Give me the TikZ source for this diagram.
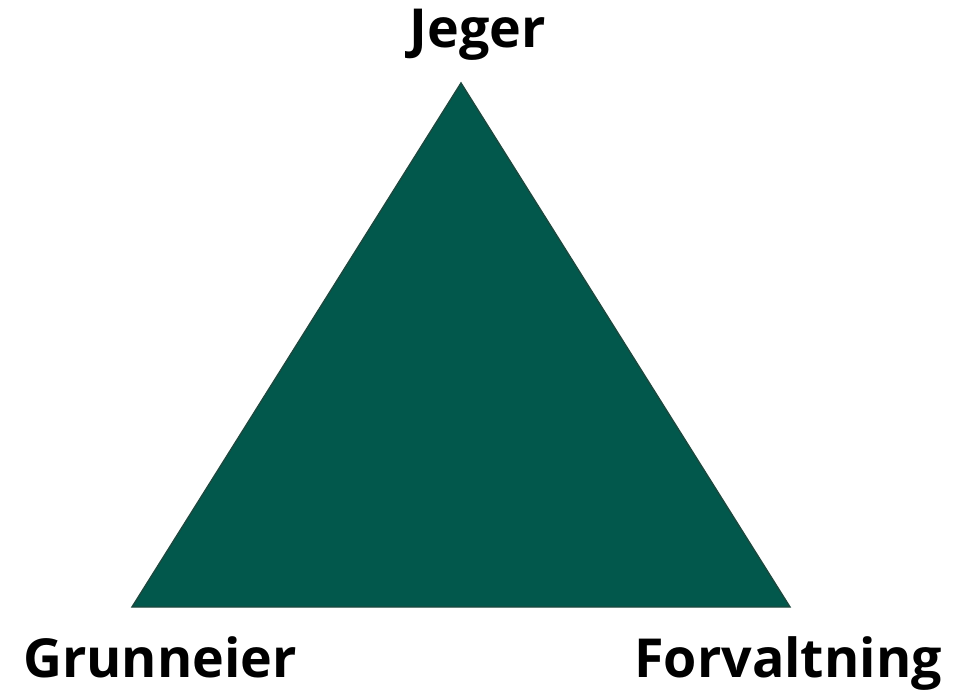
\documentclass[tikz,border=0pt]{standalone}
\usepackage{fontspec}
\setmainfont{Open Sans}
\usepackage{xcolor}
\usepackage{tikz}
\usetikzlibrary{positioning}
\definecolor{forestgreen}{RGB}{2, 88, 76}
\definecolor{forestedge}{RGB}{28, 72, 62}

\begin{document}
\begin{tikzpicture}[
    label/.style={font=\fontsize{30.6}{36}\selectfont\bfseries, anchor=base, inner sep=0pt},
    triangle/.style={fill=forestgreen, draw=forestedge, line width=0.8pt, line join=miter}
]
\useasboundingbox (0,0) rectangle (19.38,13.82);

% Corners
\coordinate (top) at (9.22,12.16);
\coordinate (left) at (2.64,1.68);
\coordinate (right) at (15.80,1.68);

% Triangle
\draw[triangle] (top) -- (left) -- (right) -- cycle;

% Labels
\node[label] (jeger) at (9.56,12.86) {Jeger};
\node[label] (grunneier) at (3.20,0.28) {Grunneier};
\node[label] (forvaltning) at (15.76,0.28) {Forvaltning};
\end{tikzpicture}
\end{document}
